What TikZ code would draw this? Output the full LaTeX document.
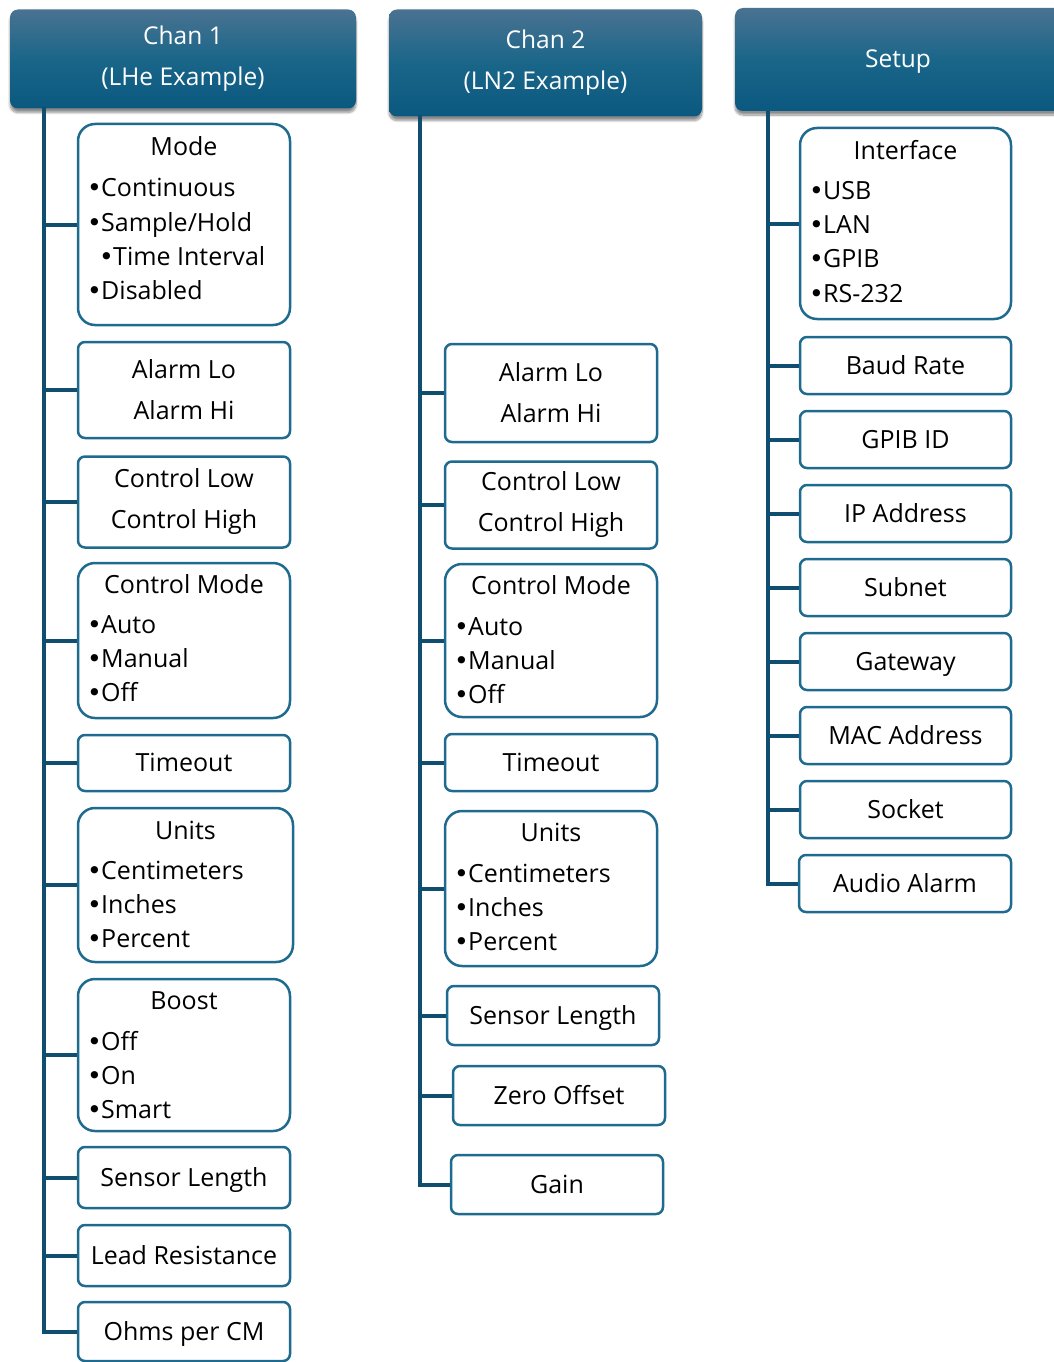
\documentclass[tikz,border=0pt]{standalone}
\usepackage{fontspec}
\setmainfont{Open Sans}
\newfontfamily\bulfont{DejaVu Sans}
\usetikzlibrary{shadows.blur}
\definecolor{trunkc}{HTML}{0F4E6F}
\definecolor{boxc}{HTML}{1F6A8F}
\definecolor{htop}{HTML}{4A7291}
\definecolor{hmid}{HTML}{1A6689}
\definecolor{hbot}{HTML}{0B5880}
\newcommand\bul{\makebox[12pt][l]{\hspace*{-2pt}{\bulfont\char"2022}}}
\tikzset{
  hdr/.style={rounded corners=8pt, top color=htop, bottom color=hbot, middle color=hmid,
    text=white, font=\fontsize{24.5}{41}\selectfont, align=center, inner sep=0pt,
    blur shadow={shadow xshift=0pt, shadow yshift=-4pt, shadow blur steps=10, shadow opacity=45}},
  sbox/.style={draw=boxc, line width=2.5pt, rounded corners=7pt, fill=white, inner sep=0pt,
    font=\fontsize{25}{41}\selectfont, align=center},
  onebox/.style={sbox, text height=17pt, text depth=0pt},
  lbox/.style={sbox, rounded corners=17pt},
  trunk/.style={draw=trunkc, line width=4pt},
  branch/.style={draw=trunkc, line width=4pt},
  ttl/.style={font=\fontsize{25}{30}\selectfont, anchor=base, inner sep=0pt},
  itm/.style={font=\fontsize{25}{30}\selectfont, anchor=base west, inner sep=0pt},
}
\begin{document}
\begin{tikzpicture}[x=1pt,y=-1pt]
\useasboundingbox (0,0) rectangle (1053,1362);
% headers
\node[hdr, minimum width=346pt, minimum height=99pt] (h1) at (183,59) {Chan 1\\(LHe Example)};
\node[hdr, minimum width=313pt, minimum height=107pt] (h2) at (545.5,63) {Chan 2\\(LN2 Example)};
\node[hdr, minimum width=330pt, minimum height=103pt, text height=17pt, text depth=0pt] (h3) at (900,59.5) {\hspace*{-4pt}Setup};
\coordinate (r1) at (44,107);
\coordinate (r2) at (420,115);
\coordinate (r3) at (768,111);

% ---------- Chan 1 ----------
\node[lbox, minimum width=212pt, minimum height=201pt] (mode1) at (184,224.5) {};
\node[ttl] (mode1t) at (184,156) {Mode};
\node[itm] (mode1a) at (89,196) {\bul Continuous};
\node[itm] (mode1b) at (89,231) {\bul Sample/Hold};
\node[itm] (mode1c) at (101,265) {\bul Time Interval};
\node[itm] (mode1d) at (89,299) {\bul Disabled};

\node[sbox, minimum width=212pt, minimum height=96pt] (alarm1) at (184,390) {Alarm Lo\\Alarm Hi};
\node[sbox, minimum width=212pt, minimum height=91pt] (ctl1) at (184,502) {Control Low\\Control High};

\node[lbox, minimum width=212pt, minimum height=155pt] (cmode1) at (184,640.5) {};
\node[ttl] (cmode1t) at (184,593) {Control Mode};
\node[itm] (cmode1a) at (89,633) {\bul Auto};
\node[itm] (cmode1b) at (89,667) {\bul Manual};
\node[itm] (cmode1c) at (89,701) {\bul Off};

\node[onebox, minimum width=212pt, minimum height=56pt] (tout1) at (184,763) {Timeout};

\node[lbox, minimum width=215pt, minimum height=154pt] (units1) at (185.5,885) {};
\node[ttl] (units1t) at (185.5,839) {Units};
\node[itm] (units1a) at (89,879) {\bul Centimeters};
\node[itm] (units1b) at (89,913) {\bul Inches};
\node[itm] (units1c) at (89,947) {\bul Percent};

\node[lbox, minimum width=212pt, minimum height=152pt] (boost1) at (184,1055) {};
\node[ttl] (boost1t) at (184,1009) {Boost};
\node[itm] (boost1a) at (89,1050) {\bul Off};
\node[itm] (boost1b) at (89,1084) {\bul On};
\node[itm] (boost1c) at (89,1118) {\bul Smart};

\node[onebox, minimum width=212pt, minimum height=61pt] (slen1) at (184,1177.5) {Sensor Length};
\node[onebox, minimum width=212pt, minimum height=61pt] (lead1) at (184,1255.5) {Lead Resistance};
\node[onebox, minimum width=212pt, minimum height=59pt] (ohms1) at (184,1331.5) {Ohms per CM};

\draw[trunk] (r1) |- (ohms1.west);
\foreach \n in {mode1,alarm1,ctl1,cmode1,tout1,units1,boost1,slen1,lead1}
  \draw[branch] (r1 |- \n.west) -- (\n.west);

% ---------- Chan 2 ----------
\node[sbox, minimum width=212pt, minimum height=98pt] (alarm2) at (551,393) {Alarm Lo\\Alarm Hi};
\node[sbox, minimum width=212pt, minimum height=87pt] (ctl2) at (551,505) {Control Low\\Control High};

\node[lbox, minimum width=212pt, minimum height=153pt] (cmode2) at (551,640.5) {};
\node[ttl] (cmode2t) at (551,594) {Control Mode};
\node[itm] (cmode2a) at (456,635) {\bul Auto};
\node[itm] (cmode2b) at (456,669) {\bul Manual};
\node[itm] (cmode2c) at (456,703) {\bul Off};

\node[onebox, minimum width=212pt, minimum height=57pt] (tout2) at (551,762.5) {Timeout};

\node[lbox, minimum width=212pt, minimum height=155pt] (units2) at (551,888.5) {};
\node[ttl] (units2t) at (551,841) {Units};
\node[itm] (units2a) at (456,882) {\bul Centimeters};
\node[itm] (units2b) at (456,916) {\bul Inches};
\node[itm] (units2c) at (456,950) {\bul Percent};

\node[onebox, minimum width=212pt, minimum height=59pt] (slen2) at (553,1015.5) {Sensor Length};
\node[onebox, minimum width=212pt, minimum height=59pt] (zero2) at (559,1095.5) {Zero Offset};
\node[onebox, minimum width=212pt, minimum height=59pt] (gain2) at (557,1184.5) {Gain};

\draw[trunk] (r2) |- (gain2.west);
\foreach \n in {alarm2,ctl2,cmode2,tout2,units2,slen2,zero2}
  \draw[branch] (r2 |- \n.west) -- (\n.west);

% ---------- Setup ----------
\node[lbox, minimum width=211pt, minimum height=191pt] (iface) at (905.5,223.5) {};
\node[ttl] (ifacet) at (905.5,160) {Interface};
\node[itm] (ifacea) at (811,199) {\bul USB};
\node[itm] (ifaceb) at (811,233) {\bul LAN};
\node[itm] (ifacec) at (811,267) {\bul GPIB};
\node[itm] (ifaced) at (811,302) {\bul RS-232};

\node[onebox, minimum width=211pt, minimum height=57pt] (baud) at (905.5,365.5) {Baud Rate};
\node[onebox, minimum width=211pt, minimum height=57pt] (gpib) at (905.5,439.5) {GPIB ID};
\node[onebox, minimum width=211pt, minimum height=57pt] (ip) at (905.5,513.5) {IP Address};
\node[onebox, minimum width=211pt, minimum height=57pt] (subnet) at (905.5,587.5) {Subnet};
\node[onebox, minimum width=211pt, minimum height=57pt] (gw) at (905.5,661.5) {Gateway};
\node[onebox, minimum width=211pt, minimum height=57pt] (mac) at (905.5,735.5) {MAC Address};
\node[onebox, minimum width=211pt, minimum height=57pt] (sock) at (905.5,809.5) {Socket};
\node[onebox, minimum width=212pt, minimum height=57pt] (audio) at (905,883.5) {Audio Alarm};

\draw[trunk] (r3) |- (audio.west);
\foreach \n in {iface,baud,gpib,ip,subnet,gw,mac,sock}
  \draw[branch] (r3 |- \n.west) -- (\n.west);
\end{tikzpicture}
\end{document}
